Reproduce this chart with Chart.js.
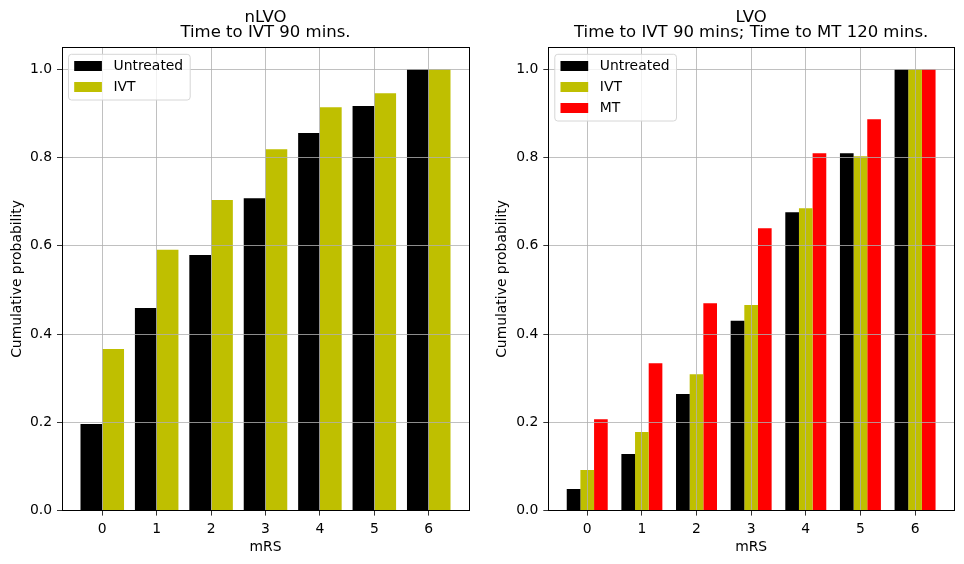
<!DOCTYPE html>
<html>
<head>
<meta charset="utf-8">
<script src="https://cdn.jsdelivr.net/npm/chart.js@4/dist/chart.umd.min.js"></script>
<style>
  body { margin: 0; background: #fff; }
  #wrap { position: relative; width: 964px; height: 564px; }
  #left { position: absolute; left: 0; top: 0; }
  #right { position: absolute; left: 490px; top: 0; }
</style>
</head>
<body>
<div id="wrap">
  <canvas id="left" width="490" height="564"></canvas>
  <canvas id="right" width="474" height="564"></canvas>
</div>
<script>
// mRS categories
var mrsTicks = [0, 1, 2, 3, 4, 5, 6];

// nLVO, cumulative probability
var nlvoUntreated = [0.196, 0.459, 0.579, 0.708, 0.856, 0.917, 1.0];
var nlvoIvt       = [0.366, 0.591, 0.704, 0.819, 0.914, 0.946, 1.0];

// LVO, cumulative probability
var lvoUntreated = [0.049, 0.128, 0.264, 0.430, 0.676, 0.810, 1.0];
var lvoIvt       = [0.092, 0.178, 0.309, 0.466, 0.685, 0.803, 1.0];
var lvoMt        = [0.207, 0.334, 0.470, 0.640, 0.810, 0.887, 1.0];

var yTicks = [0, 0.2, 0.4, 0.6, 0.8, 1.0];

Chart.defaults.font.family = "'DejaVu Sans', sans-serif";
Chart.defaults.font.size = 13.9;
Chart.defaults.color = '#000';

/**
 * turn one series into {x, y} points on the mRS axis
 */
function points(values) {
    var out = [];
    for (var i = 0; i < mrsTicks.length; i++) {
        out.push({ x: mrsTicks[i], y: values[i] });
    }
    return out;
}

/**
 * black frame round the plot area, like the matplotlib spines
 */
var frame = {
    id: 'frame',
    afterDraw: function(chart) {
        var a = chart.chartArea;
        var ctx = chart.ctx;
        ctx.save();
        ctx.strokeStyle = '#000';
        ctx.lineWidth = 1;
        ctx.strokeRect(Math.round(a.left) + 0.5, Math.round(a.top) + 0.5,
            Math.round(a.right - a.left), Math.round(a.bottom - a.top));
        ctx.restore();
    }
};

/**
 * legend box in the upper left corner of the plot
 */
var legendBox = {
    id: 'legendBox',
    afterDraw: function(chart) {
        var a = chart.chartArea;
        var ctx = chart.ctx;
        var sets = chart.data.datasets;
        ctx.save();
        ctx.font = "13.9px 'DejaVu Sans'";
        var maxW = 0;
        for (var i = 0; i < sets.length; i++) {
            maxW = Math.max(maxW, ctx.measureText(sets[i].label).width);
        }
        var bx = a.left + 6.5, by = a.top + 7;
        var bw = 45 + maxW + 7;
        var bh = 24.7 + (sets.length - 1) * 21;
        ctx.beginPath();
        ctx.roundRect(bx, by, bw, bh, 3);
        ctx.fillStyle = 'rgba(255,255,255,0.8)';
        ctx.fill();
        ctx.strokeStyle = '#d6d6d6';
        ctx.lineWidth = 1;
        ctx.stroke();
        ctx.textBaseline = 'middle';
        for (var j = 0; j < sets.length; j++) {
            var cy = by + 11.7 + j * 21;
            ctx.fillStyle = sets[j].backgroundColor;
            ctx.fillRect(bx + 5.7, cy - 5, 27.7, 10);
            ctx.fillStyle = '#000';
            ctx.fillText(sets[j].label, bx + 45, cy + 0.5);
        }
        ctx.restore();
    }
};

function makeChart(id, title, datasets, xMin, xMax, yWidth, padRight, yTitlePad, catPct) {
    var ctx = document.getElementById(id).getContext('2d');
    return new Chart(ctx, {
        type: 'bar',
        data: { datasets: datasets },
        options: {
            responsive: false,
            animation: false,
            devicePixelRatio: 1,
            layout: { padding: { left: 0, right: padRight, top: 0, bottom: 0 } },
            datasets: {
                bar: { categoryPercentage: catPct, barPercentage: 1.0, borderWidth: 0 }
            },
            plugins: {
                legend: { display: false },
                tooltip: { enabled: false },
                title: {
                    display: true,
                    text: title,
                    fullSize: false,
                    color: '#000',
                    font: { size: 16.5, weight: 'normal', lineHeight: '15.2px' },
                    padding: { top: 10.4, bottom: 6.5 }
                }
            },
            scales: {
                x: {
                    type: 'linear',
                    min: xMin,
                    max: xMax,
                    offset: false,
                    afterFit: function(s) { s.height = 53.4; },
                    ticks: {
                        stepSize: 1,
                        includeBounds: false,
                        padding: 5,
                        color: '#000',
                        callback: function(v) { return String(v); }
                    },
                    grid: { offset: false, color: '#b0b0b0', lineWidth: 0.8, tickColor: '#000', tickLength: 5, z: 1 },
                    border: { display: false },
                    title: { display: true, text: 'mRS', color: '#000', padding: { bottom: 8.5 } }
                },
                y: {
                    min: 0,
                    max: 1.05,
                    afterFit: function(s) { s.width = yWidth; },
                    afterBuildTicks: function(s) {
                        s.ticks = yTicks.map(function(v) { return { value: v }; });
                    },
                    ticks: {
                        padding: 5,
                        color: '#000',
                        callback: function(v) { return v.toFixed(1); }
                    },
                    grid: { color: '#b0b0b0', lineWidth: 0.8, tickColor: '#000', tickLength: 5, z: 1 },
                    border: { display: false },
                    title: { display: true, text: 'Cumulative probability', color: '#000', padding: { top: yTitlePad } }
                }
            }
        },
        plugins: [frame, legendBox]
    });
}

makeChart('left', ['nLVO', 'Time to IVT 90 mins.'], [
    { label: 'Untreated', data: points(nlvoUntreated), backgroundColor: '#000000' },
    { label: 'IVT', data: points(nlvoIvt), backgroundColor: '#bfbf00' }
], -0.74, 6.74, 62, 21, 9.2, 0.8);

makeChart('right', ['LVO', 'Time to IVT 90 mins; Time to MT 120 mins.'], [
    { label: 'Untreated', data: points(lvoUntreated), backgroundColor: '#000000' },
    { label: 'IVT', data: points(lvoIvt), backgroundColor: '#bfbf00' },
    { label: 'MT', data: points(lvoMt), backgroundColor: '#ff0000' }
], -0.7125, 6.7125, 58.3, 10, 4.5, 0.75);
</script>
</body>
</html>
